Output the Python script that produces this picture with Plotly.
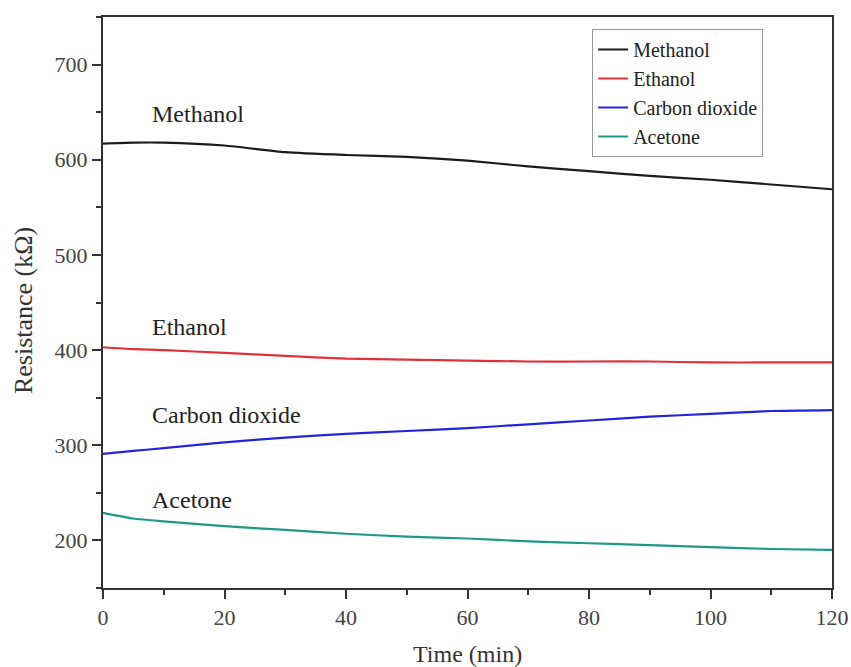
import plotly.graph_objects as go

time = [0, 5, 10, 20, 30, 40, 50, 60, 70, 80, 90, 100, 110, 120]
methanol = [617, 618, 618, 615, 608, 605, 603, 599, 593, 588, 583, 579, 574, 569]
ethanol = [403, 401, 400, 397, 394, 391, 390, 389, 388, 388, 388, 387, 387, 387]
co2 = [291, 294, 297, 303, 308, 312, 315, 318, 322, 326, 330, 333, 336, 337]
acetone = [229, 223, 220, 215, 211, 207, 204, 202, 199, 197, 195, 193, 191, 190]

names = ["Methanol", "Ethanol", "Carbon dioxide", "Acetone"]
colors = ["#1c1c1c", "#e0303a", "#2424dc", "#1e9a84"]
series = [methanol, ethanol, co2, acetone]
label_x = [7.7, 7.7, 7.7, 7.7]
label_y = [648, 424, 332, 242]

FONT = "Liberation Serif, Times New Roman, serif"

fig = go.Figure()
for n, c, s in zip(names, colors, series):
    fig.add_trace(go.Scatter(x=time, y=s, name=n, mode="lines",
                             line=dict(color=c, width=2.2, shape="spline", smoothing=0.6)))

for n, lx, ly in zip(names, label_x, label_y):
    fig.add_annotation(x=lx, y=ly, text=n, showarrow=False, xanchor="left",
                       yanchor="middle", font=dict(family=FONT, size=24, color="#222"))

# axis titles as paper annotations for exact placement
fig.add_annotation(xref="paper", yref="paper", x=0.5, y=0, yshift=-66,
                   text="Time (min)", showarrow=False, xanchor="center", yanchor="middle",
                   font=dict(family=FONT, size=24, color="#333"))
fig.add_annotation(xref="paper", yref="paper", x=0, xshift=-80, y=0.485,
                   text="Resistance (kΩ)", showarrow=False, textangle=-90,
                   xanchor="center", yanchor="middle",
                   font=dict(family=FONT, size=26, color="#333"))

fig.update_layout(
    width=851, height=667,
    margin=dict(l=103, r=19, t=17, b=79),
    paper_bgcolor="white", plot_bgcolor="white",
    font=dict(family=FONT, size=22, color="#444"),
    showlegend=True,
    legend=dict(x=0.671, y=0.979, xanchor="left", yanchor="top",
                bgcolor="white", bordercolor="#999", borderwidth=1,
                font=dict(family=FONT, size=20, color="#222"),
                tracegroupgap=0),
)
fig.update_xaxes(range=[0, 120], tickvals=[0, 20, 40, 60, 80, 100, 120],
                 ticks="outside", ticklen=9, tickwidth=1.5, tickcolor="#333",
                 minor=dict(ticks="outside", ticklen=5, dtick=10, tickcolor="#333"),
                 showline=True, linecolor="#333", linewidth=2, mirror=True,
                 showgrid=False, zeroline=False, automargin=False)
fig.update_yaxes(range=[150, 750], tickvals=[200, 300, 400, 500, 600, 700],
                 ticks="outside", ticklen=9, tickwidth=1.5, tickcolor="#333",
                 minor=dict(ticks="outside", ticklen=5, dtick=50, tickcolor="#333"),
                 showline=True, linecolor="#333", linewidth=2, mirror=True,
                 showgrid=False, zeroline=False, automargin=False)

fig.write_html("out.html", config={"displayModeBar": False},
               post_script="document.body.style.margin='0';")
